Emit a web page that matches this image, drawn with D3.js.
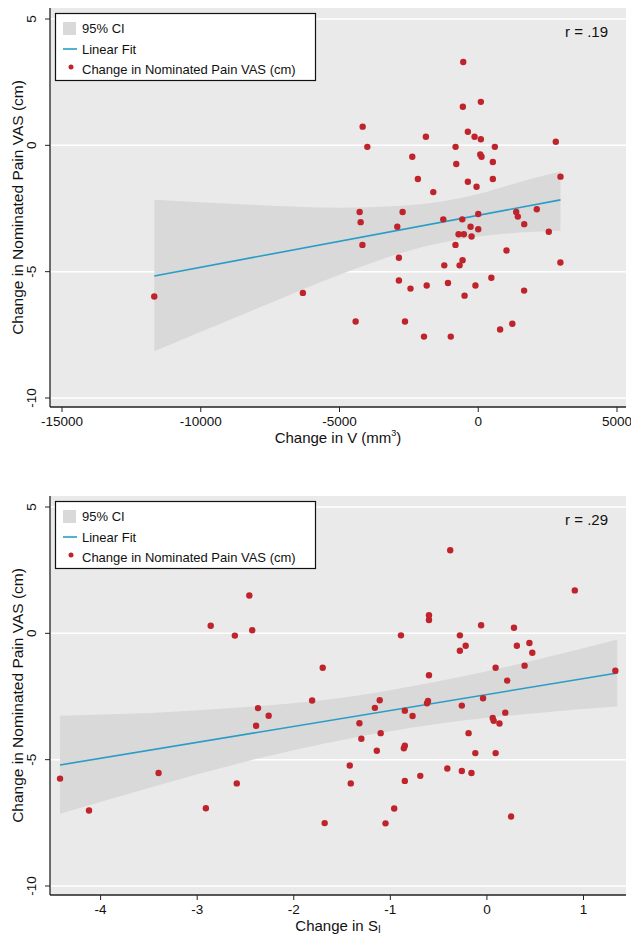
<!DOCTYPE html>
<html>
<head>
<meta charset="utf-8">
<script src="https://cdn.jsdelivr.net/npm/d3@7"></script>
<style>
  body { margin: 0; background: #fff; }
  svg { display: block; }
  text { font-family: "Liberation Sans", Arial, sans-serif; fill: #111; }
</style>
</head>
<body>
<div id="chart"></div>
<script>
// ---- top panel: change in V (mm^3) vs change in pain VAS
var topX = [-540, -555, 94, -4166, -3997, -1887, -2377, -374, -133, 94, -817, 598, 72, 119, -792, 526,
  -2175, -1620, -374, -61, 526, 2795, 2964, -4274, -4238, -2726, -2917, -1260, -576, 0, -277, 0,
  -709, -518, -241, 1368, 1426, 1656, 2110, 2542, -4174, -821, -2859, -1224, -673, -565, 1019, 2960,
  -11675, -6320, -2859, -2441, -1858, -1091, -493, -101, 472, 1653, -4418, -2640, -1955, -990, 788, 1228];
var topY = [3.30, 1.53, 1.72, 0.74, -0.06, 0.34, -0.45, 0.54, 0.34, 0.24, -0.06, -0.06, -0.36, -0.45, -0.74, -0.66,
  -1.33, -1.85, -1.44, -1.64, -1.33, 0.14, -1.24, -2.64, -3.04, -2.64, -3.22, -2.93, -2.93, -2.72, -3.22, -3.32,
  -3.52, -3.52, -3.61, -2.64, -2.82, -3.12, -2.53, -3.42, -3.94, -3.94, -4.45, -4.75, -4.75, -4.55, -4.16, -4.64,
  -5.98, -5.84, -5.35, -5.67, -5.55, -5.45, -5.95, -5.55, -5.24, -5.75, -6.97, -6.97, -7.57, -7.57, -7.29, -7.06];
var topFitX = [-11675, 2964];
var topFitY = [-5.17, -2.16];
var topCiX = [-11675, -8000, -5000, -2000, 0, 1500, 2964];
var topCiUpper = [-2.15, -2.36, -2.47, -2.32, -1.93, -1.45, -1.04];
var topCiLower = [-8.15, -6.47, -5.12, -4.02, -3.61, -3.45, -3.38];
var topXTicks = [-15000, -10000, -5000, 0, 5000];
var topR = "r = .19";

// ---- bottom panel: change in S_I vs change in pain VAS
var botX = [-2.46, -2.86, -2.61, -2.43, -1.70, -1.81, -2.37, -2.26, -2.39, -4.42, -4.12, -3.40, -2.59, -2.91, -1.68,
  -0.38, 0.91, -0.60, -0.60, -0.06, 0.28, -0.89, -0.28, -0.22, -0.28, 0.31, 0.44, 0.47, -0.60, 0.09, 0.39, 0.21,
  1.33, -1.11, -1.16, -0.61, -0.62, -0.85, -0.77, -0.26, -0.04, 0.06, 0.07, 0.13, 0.19, -1.32, -1.10, -1.30,
  -1.14, -0.85, -0.86, -0.19, -0.12, 0.09, -1.42, -1.41, -0.85, -0.69, -0.41, -0.26, -0.16, -0.96, -1.05, 0.25];
var botY = [1.50, 0.30, -0.09, 0.12, -1.36, -2.66, -2.96, -3.26, -3.66, -5.75, -7.01, -5.53, -5.94, -6.92, -7.51,
  3.29, 1.70, 0.72, 0.53, 0.32, 0.22, -0.08, -0.08, -0.49, -0.69, -0.49, -0.38, -0.77, -1.66, -1.36, -1.28, -1.87,
  -1.48, -2.65, -2.95, -2.68, -2.77, -3.06, -3.27, -2.86, -2.57, -3.35, -3.46, -3.57, -3.14, -3.56, -3.95, -4.17,
  -4.65, -4.45, -4.55, -3.95, -4.74, -4.74, -5.23, -5.94, -5.84, -5.64, -5.35, -5.45, -5.53, -6.93, -7.52, -7.25];
var botFitX = [-4.42, 1.35];
var botFitY = [-5.21, -1.57];
var botCiX = [-4.42, -3.5, -2.5, -1.5, -0.5, 0.5, 1.35];
var botCiUpper = [-3.26, -3.15, -2.92, -2.55, -1.90, -1.06, -0.24];
var botCiLower = [-7.14, -6.12, -5.08, -4.22, -3.58, -3.16, -2.90];
var botXTicks = [-4, -3, -2, -1, 0, 1];
var botR = "r = .29";

var yTicks = [-10, -5, 0, 5];
var legendLabels = ["95% CI", "Linear Fit", "Change in Nominated Pain VAS (cm)"];

(function(){
  var width = 631;
  var height = 936;

  var bandColor = "#d9d9d9";
  var plotBg = "#eaeaea";
  var fitColor = "#2a9cc6";
  var dotColor = "#bf242c";

  var svg = d3.select("#chart")
    .append("svg")
    .attr("width", width)
    .attr("height", height);

  function drawPanel(p) {
    var g = svg.append("g").attr("transform", "translate(0," + p.offset + ")");

    var left = 50, right = 626, top = 8, axisY = 407;

    var x = d3.scaleLinear().domain(p.xDomain).range(p.xRange);
    var y = d3.scaleLinear().domain([-10, 5]).range([398, 19]);

    // plot region + grid
    g.append("rect")
      .attr("x", left).attr("y", top)
      .attr("width", right - left).attr("height", axisY - top)
      .attr("fill", plotBg);

    g.selectAll(".grid")
      .data(yTicks)
      .enter().append("line")
      .attr("x1", left).attr("x2", right)
      .attr("y1", function(d){ return y(d); })
      .attr("y2", function(d){ return y(d); })
      .attr("stroke", "#fff")
      .attr("stroke-width", 1.5);

    // confidence band
    var ci = p.ciX.map(function(v, i){ return {x: v, lo: p.ciLower[i], hi: p.ciUpper[i]}; });
    var area = d3.area()
      .x(function(d){ return x(d.x); })
      .y0(function(d){ return y(d.lo); })
      .y1(function(d){ return y(d.hi); })
      .curve(d3.curveMonotoneX);
    g.append("path")
      .attr("d", area(ci))
      .attr("fill", bandColor);

    // fitted line
    var fit = p.fitX.map(function(v, i){ return [v, p.fitY[i]]; });
    var line = d3.line()
      .x(function(d){ return x(d[0]); })
      .y(function(d){ return y(d[1]); });
    g.append("path")
      .attr("d", line(fit))
      .attr("fill", "none")
      .attr("stroke", fitColor)
      .attr("stroke-width", 1.6);

    // points
    var pts = p.px.map(function(v, i){ return [v, p.py[i]]; });
    g.selectAll(".dot")
      .data(pts)
      .enter().append("circle")
      .attr("cx", function(d){ return x(d[0]); })
      .attr("cy", function(d){ return y(d[1]); })
      .attr("r", 3.2)
      .attr("fill", dotColor);

    // axes
    g.append("line")
      .attr("x1", left).attr("x2", left)
      .attr("y1", top).attr("y2", axisY)
      .attr("stroke", "#222").attr("stroke-width", 1.3);
    g.append("line")
      .attr("x1", left).attr("x2", right)
      .attr("y1", axisY).attr("y2", axisY)
      .attr("stroke", "#222").attr("stroke-width", 1.3);

    g.selectAll(".ytick")
      .data(yTicks)
      .enter().append("line")
      .attr("x1", left - 5).attr("x2", left)
      .attr("y1", function(d){ return y(d); })
      .attr("y2", function(d){ return y(d); })
      .attr("stroke", "#222");
    g.selectAll(".ylab")
      .data(yTicks)
      .enter().append("text")
      .attr("transform", function(d){ return "translate(36," + y(d) + ") rotate(-90)"; })
      .attr("text-anchor", "middle")
      .style("font-size", "13.5px")
      .text(function(d){ return d; });

    g.selectAll(".xtick")
      .data(p.xTicks)
      .enter().append("line")
      .attr("x1", function(d){ return x(d); })
      .attr("x2", function(d){ return x(d); })
      .attr("y1", axisY).attr("y2", axisY + 5)
      .attr("stroke", "#222");
    g.selectAll(".xlab")
      .data(p.xTicks)
      .enter().append("text")
      .attr("x", function(d){ return x(d); })
      .attr("y", axisY + 19)
      .attr("text-anchor", "middle")
      .style("font-size", "13.5px")
      .text(function(d){ return d; });

    // axis titles
    var xt = g.append("text")
      .attr("x", (left + right) / 2)
      .attr("y", axisY + 36)
      .attr("text-anchor", "middle")
      .style("font-size", "15px");
    p.xTitle(xt);

    g.append("text")
      .attr("transform", "translate(23," + ((top + axisY) / 2) + ") rotate(-90)")
      .attr("text-anchor", "middle")
      .style("font-size", "15.5px")
      .text("Change in Nominated Pain VAS (cm)");

    // r label
    g.append("text")
      .attr("x", 608).attr("y", 37)
      .attr("text-anchor", "end")
      .style("font-size", "15px")
      .text(p.r);

    // legend
    var lg = g.append("g");
    lg.append("rect")
      .attr("x", 55.5).attr("y", 13.5)
      .attr("width", 260).attr("height", 67)
      .attr("fill", "#fff")
      .attr("stroke", "#111").attr("stroke-width", 1.2);
    lg.append("rect")
      .attr("x", 63).attr("y", 22).attr("width", 13).attr("height", 13)
      .attr("fill", bandColor);
    lg.append("line")
      .attr("x1", 63).attr("x2", 77).attr("y1", 49).attr("y2", 49)
      .attr("stroke", fitColor).attr("stroke-width", 1.6);
    lg.append("circle")
      .attr("cx", 71).attr("cy", 67).attr("r", 2.5)
      .attr("fill", dotColor);
    lg.selectAll(".ltxt")
      .data(legendLabels)
      .enter().append("text")
      .attr("x", 82)
      .attr("y", function(d, i){ return 33 + i * 20.5; })
      .style("font-size", "13px")
      .text(function(d){ return d; });
  }

  drawPanel({
    offset: 0,
    xDomain: [-15000, 5000], xRange: [62, 617],
    xTicks: topXTicks,
    px: topX, py: topY,
    fitX: topFitX, fitY: topFitY,
    ciX: topCiX, ciUpper: topCiUpper, ciLower: topCiLower,
    r: topR,
    xTitle: function(t){
      t.append("tspan").text("Change in V (mm");
      t.append("tspan").attr("dy", -7).style("font-size", "9px").text("3");
      t.append("tspan").attr("dy", 7).text(")");
    }
  });

  drawPanel({
    offset: 488,
    xDomain: [-4, 1], xRange: [100.6, 583.5],
    xTicks: botXTicks,
    px: botX, py: botY,
    fitX: botFitX, fitY: botFitY,
    ciX: botCiX, ciUpper: botCiUpper, ciLower: botCiLower,
    r: botR,
    xTitle: function(t){
      t.append("tspan").text("Change in S");
      t.append("tspan").attr("dy", 2).style("font-size", "10px").text("I");
    }
  });
})();
</script>
</body>
</html>
